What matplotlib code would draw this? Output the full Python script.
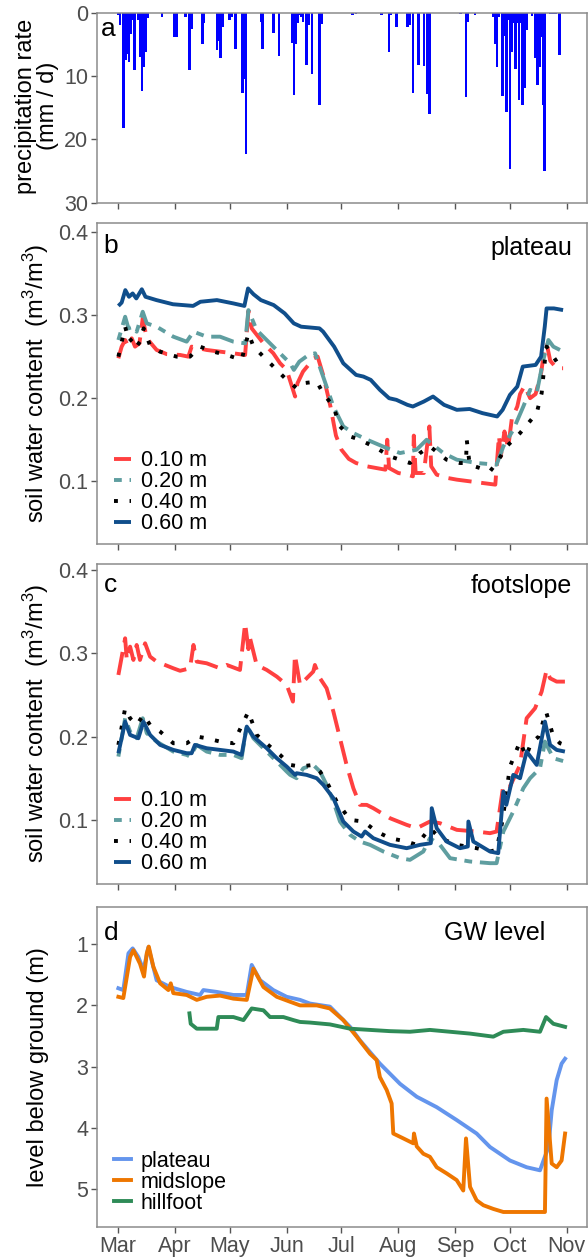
import matplotlib
matplotlib.use('Agg')
import matplotlib.pyplot as plt

plt.rcParams['font.family'] = ['Liberation Sans', 'DejaVu Sans']
plt.rcParams['mathtext.default'] = 'regular'

# ---------------- data (x = days after 1 March) ----------------
month_ticks = [0, 31, 61, 92, 122, 153, 184, 214, 245]
month_labels = ['Mar', 'Apr', 'May', 'Jun', 'Jul', 'Aug', 'Sep', 'Oct', 'Nov']

precip_day = [0, 1, 3, 4, 5, 6, 7, 8, 9, 10, 11, 12, 13, 14, 15, 16, 24, 31, 32, 33,
              37, 39, 40, 46, 47, 54, 55, 56, 57, 61, 62, 64, 68, 69, 70, 78, 79, 85,
              88, 89, 95, 96, 97, 98, 99, 100, 101, 103, 104, 106, 110, 111, 128, 130,
              131, 132, 133, 134, 135, 136, 144, 148, 149, 152, 158, 159, 161, 164,
              167, 169, 170, 171, 187, 190, 191, 195, 205, 206, 207, 208, 210, 211,
              212, 213, 214, 215, 216, 217, 218, 219, 220, 221, 222, 223, 226, 228,
              229, 230, 231, 232, 233, 236, 237, 238, 239, 241]
precip_mm = [0.4, 2.0, 18.2, 7.5, 6.5, 7.8, 3.3, 1.2, 9.1, 0.1, 1.2, 7.0, 12.4, 8.5, 6.2,
             0.9, 0.6, 3.9, 3.9, 0.1, 0.6, 9.0, 2.5, 5.0, 1.7, 5.9, 4.4, 7.1, 2.2, 1.2,
             0.6, 5.7, 12.7, 10.5, 22.3, 1.4, 5.7, 3.2, 6.8, 0.1, 4.8, 13.0, 5.0, 1.7,
             0.4, 0.6, 1.4, 8.2, 2.0, 9.6, 14.6, 1.8, 0.4, 0.2, 0.1, 0.1, 0.1, 0.1, 0.1,
             0.1, 0.4, 6.2, 0.4, 2.2, 2.3, 2.0, 12.6, 8.2, 8.4, 12.9, 16.0, 0.1, 0.2,
             13.3, 1.4, 0.4, 0.6, 5.0, 8.6, 0.6, 13.1, 3.6, 15.7, 1.2, 24.7, 6.2, 1.7,
             8.9, 1.6, 13.8, 1.7, 14.6, 11.9, 2.7, 0.5, 7.1, 11.4, 8.5, 3.8, 14.6, 25.0,
             0.2, 0.2, 0.2, 0.2, 6.6]

# plateau soil water content
pl10_day = [0.2, 2, 3.9, 5.7, 7.5, 9.3, 11.7, 13.5, 15.7, 21.1, 26.6, 33.9, 38.4, 40.2,
            48.4, 55.7, 63, 69.4, 71.2, 73, 79.4, 84.8, 88.5, 92.1, 96.7, 98, 101, 104,
            107, 109, 112, 116, 119, 122, 126, 130, 136, 141, 146, 147, 148, 153, 158,
            161, 161.5, 162.5, 167, 170, 171, 174, 180, 185, 192, 199, 206, 208, 209,
            211, 213, 215, 218, 219.5, 222, 225, 228, 231, 233, 234, 236, 239.5, 243]
pl10_val = [0.248, 0.262, 0.270, 0.262, 0.272, 0.262, 0.266, 0.296, 0.272, 0.258, 0.253,
            0.252, 0.250, 0.262, 0.258, 0.256, 0.254, 0.252, 0.305, 0.284, 0.266, 0.254,
            0.242, 0.234, 0.202, 0.218, 0.232, 0.240, 0.248, 0.250, 0.228, 0.190, 0.155,
            0.138, 0.127, 0.122, 0.118, 0.116, 0.114, 0.150, 0.116, 0.110, 0.108, 0.106,
            0.155, 0.110, 0.110, 0.166, 0.118, 0.108, 0.104, 0.102, 0.100, 0.098, 0.096,
            0.155, 0.130, 0.160, 0.140, 0.175, 0.190, 0.205, 0.215, 0.200, 0.205, 0.230,
            0.262, 0.266, 0.245, 0.236, 0.236]
pl20_day = [0.2, 3.9, 5.7, 8.4, 10.2, 13.5, 15.7, 21.1, 30.2, 37.5, 41.2, 48.4, 55.7, 63,
            69.4, 71.2, 75.7, 84.8, 90.3, 94, 96, 99, 104, 107.6, 112, 117.6, 123, 128.5,
            136, 146.7, 154, 163, 168.5, 177.6, 185, 196, 206.7, 210.4, 215.8, 221.3,
            225, 228.6, 232.2, 235, 237.7, 241.3]
pl20_val = [0.270, 0.298, 0.284, 0.286, 0.280, 0.304, 0.290, 0.286, 0.274, 0.268, 0.280,
            0.274, 0.274, 0.268, 0.266, 0.306, 0.282, 0.262, 0.250, 0.242, 0.234, 0.244,
            0.252, 0.254, 0.226, 0.190, 0.166, 0.158, 0.150, 0.140, 0.134, 0.138, 0.150,
            0.134, 0.126, 0.122, 0.120, 0.142, 0.162, 0.190, 0.210, 0.206, 0.246, 0.270,
            0.262, 0.258]
pl40_day = [0.2, 3.9, 6, 8, 10, 12, 14, 17.4, 22.9, 32, 39.3, 44.8, 52, 59.4, 67.5, 71.2,
            74, 79.4, 86.7, 92.1, 97.6, 101, 108.5, 112, 117.6, 121.2, 126.7, 132.1, 141.2,
            148.5, 159.4, 164.9, 170.3, 179.4, 186.7, 190, 190.4, 192, 203.1, 206.7, 212.2,
            219.5, 228.6, 231.3, 233.1, 234, 239.5, 241.3]
pl40_val = [0.250, 0.286, 0.268, 0.272, 0.262, 0.268, 0.284, 0.264, 0.256, 0.250, 0.250,
            0.262, 0.256, 0.252, 0.246, 0.278, 0.262, 0.250, 0.234, 0.222, 0.212, 0.218,
            0.220, 0.206, 0.190, 0.166, 0.154, 0.150, 0.140, 0.130, 0.122, 0.134, 0.142,
            0.126, 0.122, 0.122, 0.150, 0.120, 0.112, 0.122, 0.142, 0.158, 0.182, 0.206,
            0.246, 0.262, 0.244, 0.242]
pl60_day = [0.2, 2, 4, 6, 8, 10, 13, 15, 21, 30, 41, 45, 54, 63, 69, 71, 74, 78, 85, 91,
            96, 100, 110, 112, 118, 123, 130, 134, 138, 143, 148, 152, 158, 161, 167, 172,
            178, 185, 192, 199, 207, 210, 214, 218, 221, 228, 231, 233, 234, 238, 243]
pl60_val = [0.311, 0.315, 0.330, 0.322, 0.326, 0.320, 0.331, 0.322, 0.318, 0.313, 0.311,
            0.316, 0.318, 0.314, 0.311, 0.332, 0.325, 0.318, 0.312, 0.302, 0.290, 0.286,
            0.284, 0.280, 0.262, 0.242, 0.228, 0.226, 0.222, 0.210, 0.200, 0.198, 0.192,
            0.190, 0.196, 0.202, 0.192, 0.186, 0.187, 0.182, 0.178, 0.186, 0.204, 0.214,
            0.238, 0.240, 0.250, 0.286, 0.308, 0.308, 0.306]

# footslope soil water content
fs10_day = [0.2, 3.9, 4.8, 6.6, 8.4, 10.2, 12, 14.8, 17.5, 21.1, 30.2, 33.9, 39.3, 41.2,
            43, 48.4, 55.7, 59.4, 66.6, 69.4, 71.2, 72.1, 75.7, 81.2, 86.7, 92.1, 95.5,
            96.6, 99.4, 103, 106.6, 107.5, 110.3, 113.9, 117.6, 121.2, 124.8, 128.5, 132.1,
            135.8, 139.4, 148.5, 157.6, 163.1, 170.3, 175.8, 185, 195.8, 203.1, 206.7,
            210.4, 214, 219.5, 223.1, 227.7, 231.3, 234, 235.9, 239.5, 244]
fs10_val = [0.274, 0.318, 0.292, 0.308, 0.292, 0.310, 0.292, 0.312, 0.296, 0.290, 0.282,
            0.279, 0.282, 0.310, 0.290, 0.288, 0.282, 0.286, 0.280, 0.336, 0.305, 0.318,
            0.286, 0.280, 0.272, 0.262, 0.242, 0.298, 0.262, 0.270, 0.278, 0.286, 0.270,
            0.258, 0.230, 0.198, 0.166, 0.138, 0.118, 0.118, 0.114, 0.102, 0.094, 0.090,
            0.098, 0.096, 0.088, 0.086, 0.084, 0.086, 0.142, 0.140, 0.166, 0.222, 0.234,
            0.254, 0.280, 0.270, 0.266, 0.266]
fs20_day = [0.2, 3.9, 6.6, 10.2, 13.5, 15.7, 21.1, 30.2, 37.5, 39.3, 43, 48.4, 55.7, 63,
            67.5, 70.3, 73.9, 81.2, 86.7, 92.1, 94, 97.5, 101.2, 106.6, 110.3, 113.9, 117.6,
            121.2, 126.7, 132.1, 137.6, 144.9, 154, 159.4, 166.7, 170.3, 175.8, 181.3,
            192.2, 203.1, 206.7, 210.4, 215.8, 221.3, 225, 230.4, 233.1, 237.7, 244]
fs20_val = [0.176, 0.222, 0.206, 0.198, 0.222, 0.204, 0.194, 0.182, 0.178, 0.176, 0.190,
            0.182, 0.178, 0.178, 0.174, 0.214, 0.198, 0.182, 0.170, 0.158, 0.154, 0.150,
            0.162, 0.166, 0.158, 0.142, 0.122, 0.098, 0.082, 0.074, 0.070, 0.062, 0.054,
            0.052, 0.062, 0.078, 0.070, 0.054, 0.050, 0.048, 0.048, 0.086, 0.110, 0.138,
            0.150, 0.162, 0.194, 0.174, 0.170]
fs40_day = [0.2, 3.9, 6.6, 10.2, 13.9, 17.5, 23, 30.2, 37.5, 43, 48.4, 55.7, 63, 71.2,
            75.7, 83, 88.5, 94, 99.4, 106.6, 110.3, 113.9, 119.4, 126.7, 134, 141.2, 148.5,
            157.6, 163.1, 170.3, 175.8, 185, 195.8, 203.1, 206.7, 210, 214, 219.5, 222.8,
            225.5, 229.7, 233.7, 237.7, 241.3, 244]
fs40_val = [0.190, 0.234, 0.222, 0.214, 0.226, 0.214, 0.206, 0.192, 0.192, 0.200, 0.198,
            0.194, 0.192, 0.230, 0.202, 0.188, 0.178, 0.166, 0.164, 0.166, 0.158, 0.146,
            0.122, 0.100, 0.098, 0.086, 0.078, 0.074, 0.070, 0.090, 0.078, 0.070, 0.066,
            0.062, 0.064, 0.100, 0.164, 0.194, 0.176, 0.192, 0.200, 0.230, 0.200, 0.192,
            0.190]
fs60_day = [0.2, 3.9, 6.6, 11.1, 13.9, 17.5, 23, 30.2, 37.5, 40.2, 42, 48.4, 55.7, 63,
            67.5, 70.3, 73.9, 81.2, 86.7, 92.1, 96.7, 97.5, 103, 108.5, 112.1, 117.6, 123,
            128.5, 133, 134.9, 139.4, 148.5, 157.6, 164.9, 170.8, 171.3, 174, 179.4, 186.7,
            191, 191.3, 194, 203.1, 207.6, 210.4, 212, 215.8, 219.5, 223.1, 228.6, 233.1,
            235.9, 239.5, 244]
fs60_val = [0.180, 0.218, 0.202, 0.198, 0.218, 0.202, 0.190, 0.184, 0.180, 0.180, 0.190,
            0.186, 0.184, 0.182, 0.178, 0.212, 0.200, 0.186, 0.174, 0.164, 0.154, 0.156,
            0.154, 0.150, 0.142, 0.126, 0.098, 0.086, 0.080, 0.086, 0.078, 0.070, 0.066,
            0.070, 0.072, 0.114, 0.090, 0.074, 0.066, 0.068, 0.098, 0.074, 0.062, 0.060,
            0.134, 0.118, 0.154, 0.150, 0.182, 0.166, 0.218, 0.190, 0.184, 0.182]

# groundwater level below ground (m)
gw_pl_day = [0.2, 2.9, 5.7, 8, 11.1, 13.9, 16.6, 21.1, 28.4, 37.5, 44.8, 46.6, 53.9, 63,
             70.3, 73, 77.6, 84.8, 92.1, 99.4, 104.8, 115.7, 126.7, 132.1, 143, 154, 163.1,
             174, 184.9, 195.8, 203.1, 214, 223.1, 230.4, 235, 236.8, 239.5, 242.2, 244.1]
gw_pl_val = [1.72, 1.75, 1.15, 1.07, 1.21, 1.42, 1.05, 1.59, 1.70, 1.78, 1.83, 1.75, 1.78,
             1.83, 1.83, 1.34, 1.59, 1.75, 1.86, 1.91, 1.97, 2.02, 2.35, 2.57, 2.95, 3.28,
             3.49, 3.66, 3.87, 4.09, 4.31, 4.53, 4.64, 4.69, 4.31, 3.71, 3.22, 2.95, 2.87]
gw_mid_day = [0.2, 2.9, 6.6, 8.4, 12, 14.2, 15.7, 16.8, 19.3, 23, 27.5, 28.8, 30.2, 37.5,
              43, 48.4, 55.7, 63, 70.3, 73.9, 79.4, 86.7, 93.9, 99.4, 108.5, 115.7, 123,
              130.3, 137.6, 141.2, 143, 146.7, 149.4, 150.3, 155.8, 161.2, 161.6, 163.1,
              166.7, 170.3, 174, 179.4, 184.9, 188.5, 190, 192.2, 195.8, 199.5, 204.9,
              210.4, 233.1, 234, 236.8, 239.5, 242.2, 244.1]
gw_mid_val = [1.86, 1.88, 1.21, 1.10, 1.32, 1.53, 1.15, 1.04, 1.37, 1.64, 1.75, 1.64, 1.80,
              1.83, 1.91, 1.86, 1.84, 1.89, 1.91, 1.40, 1.70, 1.86, 1.94, 2.00, 2.00, 2.05,
              2.24, 2.51, 2.79, 2.89, 3.17, 3.38, 3.60, 4.09, 4.17, 4.25, 4.09, 4.30, 4.42,
              4.47, 4.64, 4.74, 4.85, 5.02, 4.17, 4.96, 5.18, 5.26, 5.32, 5.37, 5.37, 3.52,
              4.58, 4.64, 4.53, 4.09]
gw_hill_day = [39, 39.7, 43, 53.9, 54.8, 63, 68.5, 73, 79.4, 83, 90.3, 95.8, 99.4, 104.8,
               115.7, 126.7, 137.6, 148.5, 159.4, 170.3, 181.3, 192.2, 204.9, 210.4, 221.3,
               230.4, 233.7, 237.7, 244.1]
gw_hill_val = [2.13, 2.30, 2.38, 2.38, 2.19, 2.19, 2.24, 2.05, 2.08, 2.19, 2.19, 2.24, 2.27,
               2.28, 2.31, 2.38, 2.40, 2.42, 2.43, 2.40, 2.43, 2.46, 2.51, 2.43, 2.40, 2.43,
               2.19, 2.30, 2.35]

depth_labels = ['0.10 m', '0.20 m', '0.40 m', '0.60 m']
gw_labels = ['plateau', 'midslope', 'hillfoot']

# ---------------- styling ----------------
W, H = 588, 1259
XLIM = (-11.63, 255.9)
BORDER = '#8c8c8c'
TICKC = '#555555'
LABC = '#4d4d4d'
FS_TICK = 15.5
FS_TITLE = 17
LW = 2.8

depth_styles = [
    dict(color='#ff4040', dashes=(6, 2.5)),
    dict(color='#5f9ea0', dashes=(2, 2, 6, 2)),
    dict(color='black', dashes=(1, 3)),
    dict(color='#104e8b', dashes=None),
]
gw_colors = ['#6495ed', '#ee7600', '#2e8b57']

fig = plt.figure(figsize=(W / 100, H / 100), dpi=100)


def add_ax(l, t, r, b):
    ax = fig.add_axes([l / W, 1 - b / H, (r - l) / W, (b - t) / H])
    for s in ax.spines.values():
        s.set_color(BORDER)
        s.set_linewidth(1.1)
    ax.set_xlim(*XLIM)
    ax.set_xticks(month_ticks)
    ax.tick_params(axis='both', length=4, width=1, color=TICKC, labelcolor=LABC,
                   labelsize=FS_TICK, pad=2)
    ax.set_xticklabels([])
    return ax


def ylabel(text, x_px, y_px):
    fig.text(x_px / W, 1 - y_px / H, text, rotation=90, ha='center', va='center',
             fontsize=FS_TITLE, color='black', linespacing=1.0)


def panel_letter(ax, s, x, y):
    ax.text(x, y, s, transform=ax.transAxes, fontsize=19, ha='left', va='baseline')


# ---------------- panel a ----------------
axa = add_ax(96.7, 12.7, 586.7, 202.7)
axa.bar(precip_day, precip_mm, width=1.4, color='#0000ff', edgecolor='none', align='center')
axa.set_ylim(30, 0)
axa.set_yticks([0, 10, 20, 30])
panel_letter(axa, 'a', 0.008, 0.880)
ylabel('precipitation rate\n(mm / d)', 37, 106)


# ---------------- panel b & c ----------------
def swc_panel(ax, series, ylim, letter, site, letter_y, site_y):
    handles = []
    for (d, v), st, lab in zip(series, depth_styles, depth_labels):
        kw = dict(color=st['color'], lw=LW, solid_capstyle='butt', dash_capstyle='butt')
        if st['dashes'] is not None:
            ln, = ax.plot(d, v, dashes=st['dashes'], **kw)
        else:
            ln, = ax.plot(d, v, **kw)
        handles.append(ln)
    ax.set_ylim(*ylim)
    ax.set_yticks([0.1, 0.2, 0.3, 0.4])
    ax.set_yticklabels(['0.1', '0.2', '0.3', '0.4'])
    panel_letter(ax, letter, 0.014, letter_y)
    ax.text(0.970, site_y, site, transform=ax.transAxes, fontsize=18, ha='right',
            va='baseline')
    ax.legend(handles, depth_labels, loc='lower left', bbox_to_anchor=(0.035, 0.03),
              frameon=False, fontsize=FS_TICK, handlelength=0.8, handletextpad=0.45,
              labelspacing=0.0, borderpad=0, borderaxespad=0)
    return ax


axb = add_ax(96.7, 222.7, 586.7, 544)
swc_panel(axb, [(pl10_day, pl10_val), (pl20_day, pl20_val), (pl40_day, pl40_val),
                (pl60_day, pl60_val)], (0.0246, 0.4111), 'b', 'plateau', 0.905, 0.900)
ylabel('soil water content  (m$^3$/m$^3$)', 36, 383)

axc = add_ax(96.7, 563.5, 586.7, 884)
swc_panel(axc, [(fs10_day, fs10_val), (fs20_day, fs20_val), (fs40_day, fs40_val),
                (fs60_day, fs60_val)], (0.023, 0.4078), 'c', 'footslope', 0.911, 0.907)
ylabel('soil water content  (m$^3$/m$^3$)', 36, 723)

# ---------------- panel d ----------------
axd = add_ax(96.7, 906.7, 586.7, 1226.7)
hd = []
for (d, v), c in zip([(gw_pl_day, gw_pl_val), (gw_mid_day, gw_mid_val),
                      (gw_hill_day, gw_hill_val)], gw_colors):
    ln, = axd.plot(d, v, color=c, lw=LW, solid_joinstyle='round')
    hd.append(ln)
axd.set_ylim(5.61, 0.39)
axd.set_yticks([1, 2, 3, 4, 5])
axd.set_xticklabels(month_labels)
axd.tick_params(axis='x', pad=3)
panel_letter(axd, 'd', 0.014, 0.896)
axd.text(0.915, 0.896, 'GW level', transform=axd.transAxes, fontsize=18, ha='right',
         va='baseline')
axd.legend(hd, gw_labels, loc='lower left', bbox_to_anchor=(0.035, 0.04), frameon=False,
           fontsize=FS_TICK, handlelength=0.8, handletextpad=0.45, labelspacing=0.0,
           borderpad=0, borderaxespad=0)
ylabel('level below ground (m)', 38.5, 1066.7)

fig.savefig('out.png', dpi=100, facecolor='white')
